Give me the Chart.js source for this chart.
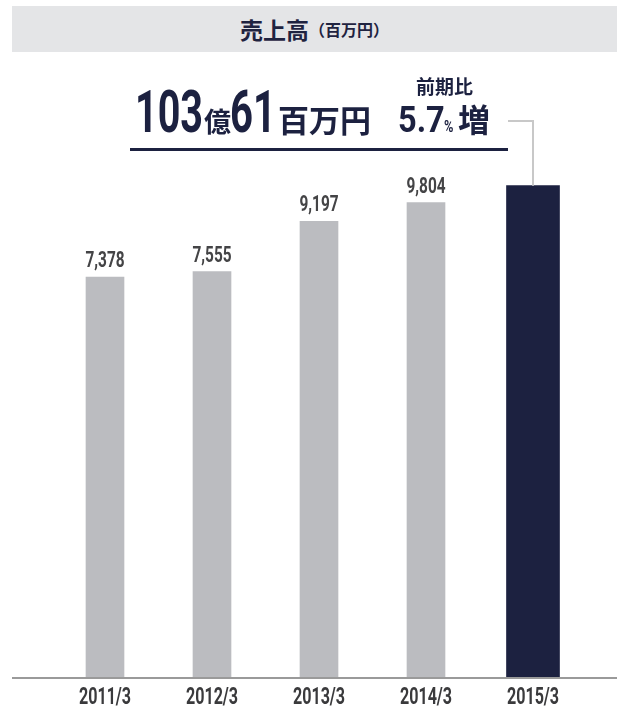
<!DOCTYPE html>
<html><head><meta charset="utf-8">
<script src="https://cdn.jsdelivr.net/npm/chart.js@4.4.1/dist/chart.umd.min.js"></script>
<style>
html,body{margin:0;padding:0;background:#fff;}
#wrap{position:relative;width:617px;height:713px;overflow:hidden;}
#c{position:absolute;left:0;top:0;}
.titlebar{position:absolute;left:12px;top:6px;width:605px;height:46px;background:#e4e5e7;color:#1f2340;
 font-family:"Noto Sans CJK JP",sans-serif;font-weight:700;font-size:23px;display:flex;align-items:center;justify-content:center;}
.titlebar span{font-size:16px;margin-left:0px;}
.ann{position:absolute;left:0;top:77px;display:flex;align-items:baseline;color:#1c2140;white-space:nowrap;}
.num{font-family:Roboto,"Liberation Sans",sans-serif;font-weight:700;display:inline-block;transform-origin:left bottom;}
.cj{font-family:"Noto Sans CJK JP",sans-serif;font-weight:700;display:inline-block;}
.ratio{position:absolute;left:416px;top:72px;color:#1c2140;font-family:"Noto Sans CJK JP",sans-serif;font-weight:700;font-size:19px;}
.uline{position:absolute;left:130px;top:148px;width:378px;height:3px;background:#1c2140;}
</style></head>
<body>
<div id="wrap">
<canvas id="c" width="617" height="713"></canvas>
<div class="titlebar">売上高<span>（百万円）</span></div>
<div class="ann">
 <span class="num" data-x="135" data-s="0.67" style="font-size:59px;">103</span>
 <span class="cj" data-x="204" data-s="1" style="font-size:27px;">億</span>
 <span class="num" data-x="230" data-s="0.68" style="font-size:59px;">61</span>
 <span class="cj" data-x="278" data-s="1" style="font-size:31px;">百万円</span>
 <span class="num" data-x="398" data-s="0.88" style="font-size:37px;">5.7</span>
 <span class="num" data-x="444" data-s="0.75" style="font-size:17px;">%</span>
 <span class="cj" data-x="458" data-s="1" style="font-size:32px;">増</span>
</div>
<div class="ratio">前期比</div>
<div class="uline"></div>
</div>
<script>
const categories = ['2011/3', '2012/3', '2013/3', '2014/3', '2015/3'];
const pastSales = [7378, 7555, 9197, 9804, null];
const currentSales = [null, null, null, null, 10361];
const Y_MIN = -5691;
const Y_MAX = 14466;

const NUM_FONT = 'Roboto,"Liberation Sans",sans-serif';
const SQUEEZE = 0.7;

(function () {
  let cursor = 0;
  document.querySelectorAll('.ann > span').forEach(el => {
    const x = parseFloat(el.dataset.x), s = parseFloat(el.dataset.s);
    const w = el.getBoundingClientRect().width;
    el.style.transform = 'scaleX(' + s + ')';
    el.style.marginLeft = (x - cursor) + 'px';
    el.style.marginRight = (-(w - w * s)) + 'px';
    cursor = x + w * s;
  });
})();

function squeezedText(ctx, fn) {
  const ft = ctx.fillText;
  ctx.fillText = function (t, x, y, mw) {
    this.save();
    this.translate(x, y);
    this.scale(SQUEEZE, 1);
    ft.call(this, t, 0, 0);
    this.restore();
  };
  try { fn(); } finally { ctx.fillText = ft; }
}

const decorPlugin = {
  id: 'decor',
  afterDatasetsDraw(chart) {
    const ctx = chart.ctx;
    const y = chart.scales.y;
    const meta0 = chart.getDatasetMeta(0);
    ctx.save();
    ctx.fillStyle = '#444446';
    ctx.font = 'bold 22px ' + NUM_FONT;
    ctx.textAlign = 'center';
    ctx.textBaseline = 'alphabetic';
    meta0.data.forEach((bar, i) => {
      const v = pastSales[i];
      if (v == null) return;
      ctx.save();
      ctx.translate(bar.x, bar.y - 10);
      ctx.scale(SQUEEZE, 1);
      ctx.fillText(v.toLocaleString('en-US'), 0, 0);
      ctx.restore();
    });
    ctx.restore();
    const meta1 = chart.getDatasetMeta(1);
    const last = meta1.data[4];
    ctx.save();
    ctx.strokeStyle = '#c8c8c8';
    ctx.lineWidth = 2;
    ctx.beginPath();
    ctx.moveTo(508, 121);
    ctx.lineTo(last.x, 121);
    ctx.lineTo(last.x, last.y);
    ctx.stroke();
    ctx.restore();
    const by = y.getPixelForValue(Y_MIN) + 1;
    ctx.save();
    ctx.strokeStyle = '#9a9a9a';
    ctx.lineWidth = 2;
    ctx.beginPath();
    ctx.moveTo(12, by);
    ctx.lineTo(617, by);
    ctx.stroke();
    ctx.restore();
  }
};

const chart = new Chart(document.getElementById('c'), {
  type: 'bar',
  data: {
    labels: categories,
    datasets: [
      { data: pastSales, backgroundColor: '#bbbcc0', barThickness: 38, base: Y_MIN },
      { data: currentSales, backgroundColor: '#1c2140', barThickness: 53, base: Y_MIN }
    ]
  },
  options: {
    responsive: false,
    devicePixelRatio: 1,
    animation: false,
    datasets: { bar: { grouped: false } },
    layout: { padding: { left: 51.5, right: 30.5, top: 60, bottom: 0 } },
    plugins: { legend: { display: false }, tooltip: { enabled: false }, title: { display: false } },
    scales: {
      x: {
        grid: { display: false, drawTicks: false },
        border: { display: false },
        ticks: { color: '#3a3a3c', font: { family: NUM_FONT, size: 23, weight: 'bold' }, padding: 7, maxRotation: 0, autoSkip: false },
        afterFit(scale) { scale.height = 36; }
      },
      y: { display: false, min: Y_MIN, max: Y_MAX }
    }
  },
  plugins: [decorPlugin]
});
const xs = chart.scales.x;
const origDrawLabels = xs.drawLabels.bind(xs);
xs.drawLabels = function (area) { squeezedText(this.ctx, () => origDrawLabels(area)); };
chart.draw();
</script>
</body></html>
